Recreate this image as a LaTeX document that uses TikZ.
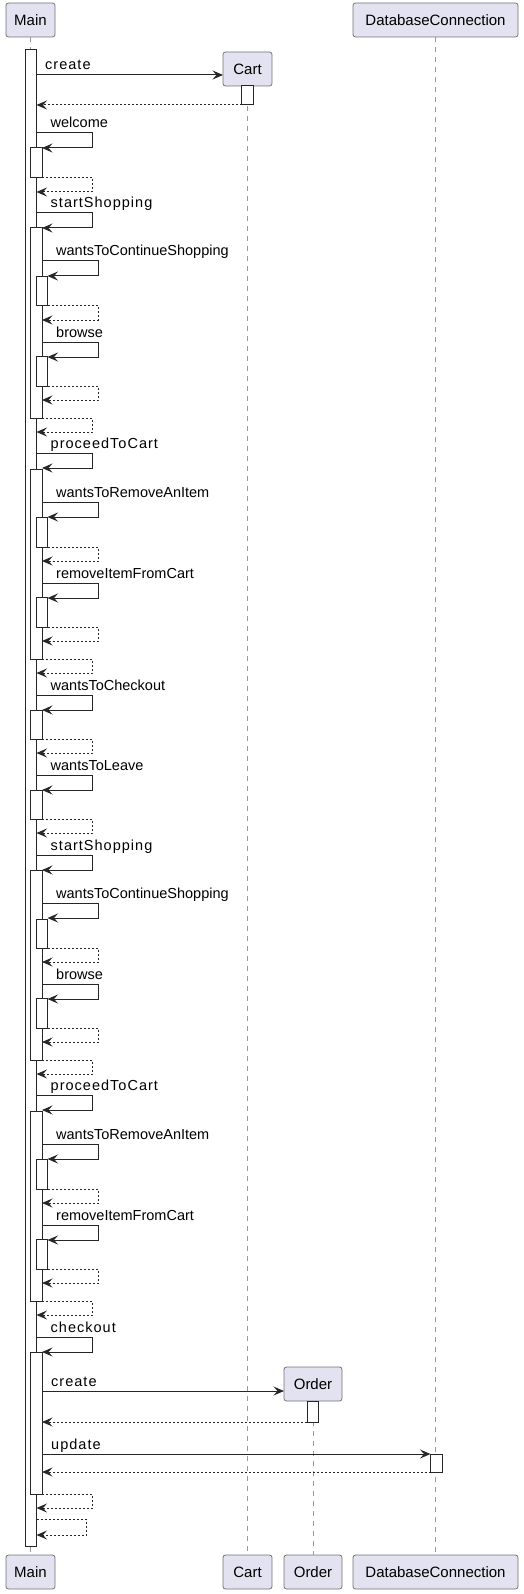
\documentclass[tikz,border=0pt]{standalone}
\usepackage{fontspec}
\setmainfont{Liberation Sans}
\newfontfamily\spacedfont[LetterSpace=7]{Liberation Sans}
\usetikzlibrary{arrows.meta}
\definecolor{headfill}{HTML}{E2E2F0}
\begin{document}
\begin{tikzpicture}[x=1pt,y=-1pt,line join=miter,>={Stealth[length=10.5pt,width=9pt,inset=4pt]}]
	\tikzset{
		head/.style={draw=black!55,fill=headfill,rounded corners=2.5pt,line width=0.8pt,minimum height=34pt,inner sep=0pt,font=\fontsize{15}{17}\selectfont},
		life/.style={draw=black!40,line width=1pt,dash pattern=on 5pt off 5pt},
		bar/.style={draw=black!85,fill=white,line width=1pt},
		msg/.style={draw=black!85,line width=1pt,->},
		ret/.style={msg,dash pattern=on 2pt off 2pt},
		lbl/.style={anchor=base west,inner sep=0pt,font=\fontsize{14.5}{17}\selectfont}
	}
	\def\actbar#1#2#3{\draw[bar](#1,#2) rectangle (#1+11.5,#3);}
	\def\selfcall#1#2#3#4{\draw[msg](#1,#2)--++(56,0)|-(#4,#2+15);
		\node[lbl] at (#1+14,#2-5) {#3};}
	\def\selfret#1#2#3#4{\draw[ret](#1,#2)--(#4,#2)|-(#3,#2+14);}
	\useasboundingbox (0,0) rectangle (524,1594);
	
	\node[head,minimum width=49pt] (maintop) at (30.5,20) {Main};
	\node[head,minimum width=49pt] (carttop) at (247.5,69) {Cart};
	\node[head,minimum width=58pt] (ordertop) at (313,1384) {Order};
	\node[head,minimum width=165pt] (dbtop) at (435.5,20) {DatabaseConnection};
	\node[head,minimum width=49pt] (mainbot) at (30.5,1572) {Main};
	\node[head,minimum width=49pt] (cartbot) at (247.5,1572) {Cart};
	\node[head,minimum width=58pt] (orderbot) at (313,1572) {Order};
	\node[head,minimum width=165pt] (dbbot) at (435.5,1572) {DatabaseConnection};
	\draw[life](maintop)--(mainbot);
	\draw[life](carttop)--(cartbot);
	\draw[life](ordertop)--(orderbot);
	\draw[life](dbtop)--(dbbot);
	
	\actbar{25}{50}{1546}
	\draw[msg](36.5,75)--(223,75);
	\node[lbl] at (45,70) {\spacedfont create};
	\actbar{241.5}{86}{105}
	\draw[ret](241.5,105)--(36.5,105);
	
	\actbar{30.5}{148}{178}
	\selfcall{36.5}{133}{welcome}{42}
	\selfret{42}{178}{36.5}{92.5}
	
	\foreach \s in {0,642}{
		\actbar{30.5}{228+\s}{418+\s}
		\actbar{36}{277+\s}{306+\s}
		\actbar{36}{356+\s}{386+\s}
		\selfcall{36.5}{213+\s}{\spacedfont startShopping}{42}
		\selfcall{42}{261+\s}{wantsToContinueShopping}{47.5}
		\selfret{47.5}{306+\s}{42}{98}
		\selfcall{42}{342+\s}{browse}{47.5}
		\selfret{47.5}{386+\s}{42}{98}
		\selfret{42}{418+\s}{36.5}{92.5}
		\actbar{30.5}{469+\s}{659+\s}
		\actbar{36}{517+\s}{547+\s}
		\actbar{36}{597+\s}{627+\s}
		\selfcall{36.5}{453+\s}{\spacedfont proceedToCart}{42}
		\selfcall{42}{502+\s}{wantsToRemoveAnItem}{47.5}
		\selfret{47.5}{547+\s}{42}{98}
		\selfcall{42}{583+\s}{removeItemFromCart}{47.5}
		\selfret{47.5}{627+\s}{42}{98}
		\selfret{42}{659+\s}{36.5}{92.5}
	}
	
	\actbar{30.5}{710}{739}
	\selfcall{36.5}{695}{wantsToCheckout}{42}
	\selfret{42}{739}{36.5}{92.5}
	\actbar{30.5}{790}{819}
	\selfcall{36.5}{775}{wantsToLeave}{42}
	\selfret{42}{819}{36.5}{92.5}
	
	\actbar{30.5}{1352}{1494}
	\selfcall{36.5}{1337}{\spacedfont checkout}{42}
	\draw[msg](42,1391)--(284,1391);
	\node[lbl] at (51,1386) {\spacedfont create};
	\actbar{307.25}{1401}{1422}
	\draw[ret](307.25,1422)--(42,1422);
	\draw[msg](42,1454)--(430.5,1454);
	\node[lbl] at (51,1449) {\spacedfont update};
	\actbar{430.5}{1454}{1472}
	\draw[ret](430.5,1472)--(42,1472);
	\selfret{42}{1494}{36.5}{92.5}
	\draw[ret](36.5,1519)--(86,1519)|-(36.5,1535);
\end{tikzpicture}
\end{document}
